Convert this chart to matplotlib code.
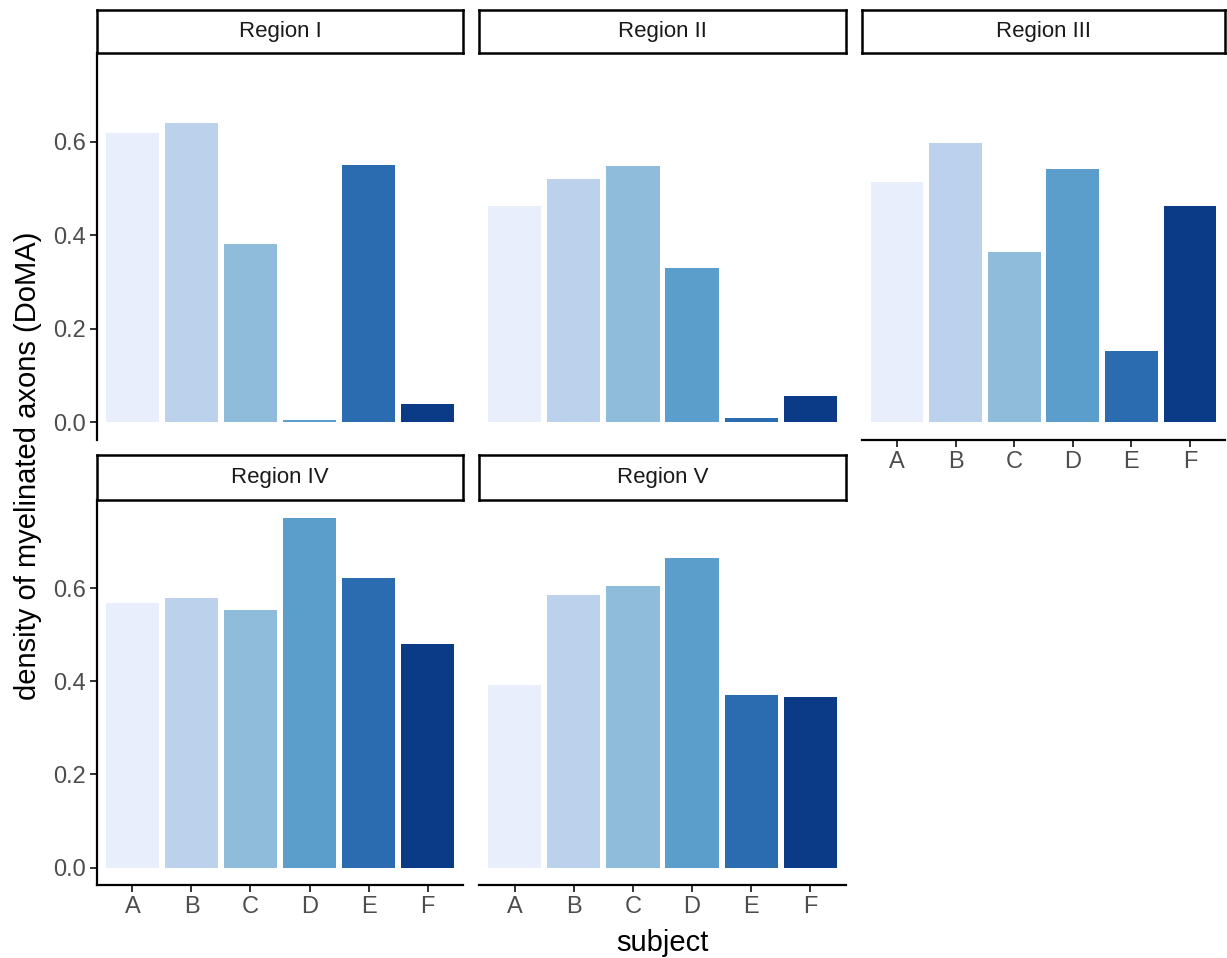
import matplotlib
matplotlib.use("Agg")
import matplotlib.pyplot as plt

plt.rcParams['font.family'] = ['Liberation Sans', 'DejaVu Sans']

# values
subjects = ['A', 'B', 'C', 'D', 'E', 'F']
regions = ['Region I', 'Region II', 'Region III', 'Region IV', 'Region V']
region_1 = [0.618, 0.640, 0.382, 0.005, 0.551, 0.039]
region_2 = [0.462, 0.520, 0.547, 0.331, 0.010, 0.057]
region_3 = [0.513, 0.598, 0.365, 0.542, 0.153, 0.463]
region_4 = [0.569, 0.578, 0.553, 0.752, 0.621, 0.480]
region_5 = [0.392, 0.586, 0.604, 0.664, 0.371, 0.367]
values = [region_1, region_2, region_3, region_4, region_5]

bar_colors = ['#e8eefc', '#bcd2ec', '#8fbcdb', '#5b9ecc', '#2b6cb0', '#0b3a87']
y_ticks = [0.0, 0.2, 0.4, 0.6]

W, H = 1227, 958
fig = plt.figure(figsize=(W / 100, H / 100), dpi=100)

def px_box(x0, y0, x1, y1):
    # pixel box (top-left origin) -> figure fraction rect
    return [x0 / W, 1 - y1 / H, (x1 - x0) / W, (y1 - y0) / H]

cols = [(97, 463), (479, 846), (862, 1225)]
rows = [(10, 53, 440), (455, 500, 885)]   # strip top, axes top, axes bottom

ymax = max(max(v) for v in values)
ylim = (-0.05 * ymax, ymax * 1.05)

for i, (name, vals) in enumerate(zip(regions, values)):
    r, c = divmod(i, 3)
    x0, x1 = cols[c]
    st, at, ab = rows[r]

    ax = fig.add_axes(px_box(x0, at, x1, ab))
    ax.bar(range(len(subjects)), vals, width=0.9, color=bar_colors)
    ax.set_xlim(-0.6, len(subjects) - 0.4)
    ax.set_ylim(*ylim)
    for s in ax.spines.values():
        s.set_visible(False)
        s.set_linewidth(1.6)
        s.set_color('black')
    show_y = (c == 0)
    show_x = (r == 1) or (i == 2)
    ax.spines['left'].set_visible(show_y)
    ax.spines['bottom'].set_visible(show_x)
    ax.tick_params(length=5, width=1.4, color='#333333', labelcolor='#4d4d4d',
                   labelsize=17, pad=3)
    ax.set_yticks(y_ticks)
    ax.set_yticklabels([f'{t:.1f}' for t in y_ticks])
    ax.set_xticks(range(len(subjects)))
    ax.set_xticklabels(subjects)
    if not show_y:
        ax.tick_params(axis='y', left=False, labelleft=False)
    if not show_x:
        ax.tick_params(axis='x', bottom=False, labelbottom=False)

    # facet strip
    sax = fig.add_axes(px_box(x0, st, x1, at))
    sax.set_xticks([])
    sax.set_yticks([])
    for s in sax.spines.values():
        s.set_linewidth(1.8)
        s.set_color('black')
    sax.text(0.5, 0.5, name, ha='center', va='center', fontsize=16,
             color='#1a1a1a', transform=sax.transAxes)

fig.text(28 / W, 1 - 466 / H, 'density of myelinated axons (DoMA)', rotation=90,
         ha='center', va='center', fontsize=21)
fig.text(662 / W, 1 - 943 / H, 'subject', ha='center', va='center', fontsize=21)

fig.savefig('out.png', dpi=100)
